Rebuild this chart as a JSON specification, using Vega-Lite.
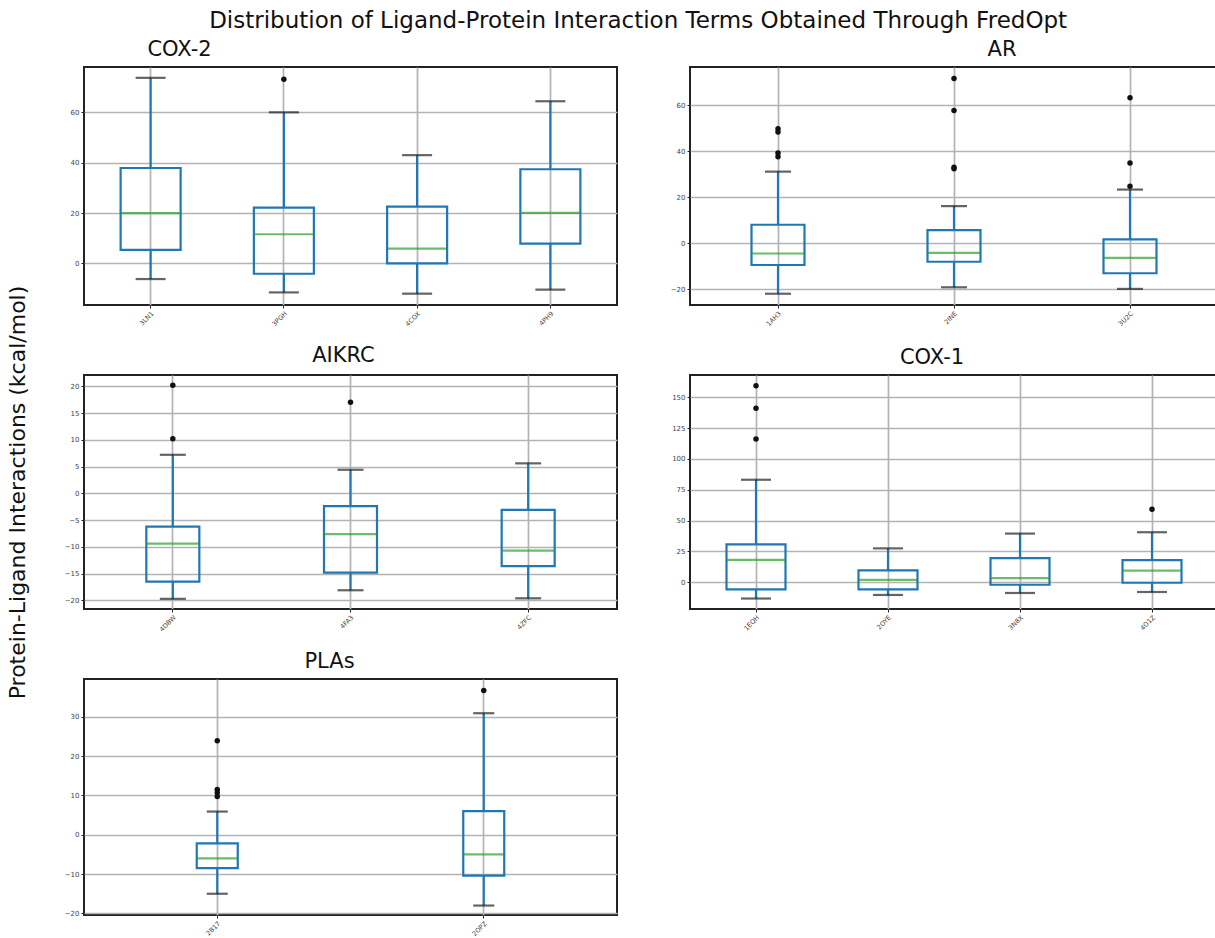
{
  "$schema": "https://vega.github.io/schema/vega-lite/v6.json",
  "background": "white",
  "padding": {"left": 5, "top": 10, "right": 0, "bottom": 0},
  "title": {"text": "Distribution of Ligand-Protein Interaction Terms Obtained Through FredOpt", "fontSize": 23, "anchor": "middle", "frame": "bounds", "dx": 26, "offset": 5},
  "datasets": {
    "summary": [
      {"panel": "COX-2", "pdb": "3LN1", "low": -6.2, "q1": 5.4, "median": 20.0, "q3": 37.9, "high": 73.7},
      {"panel": "COX-2", "pdb": "3PGH", "low": -11.5, "q1": -4.1, "median": 11.6, "q3": 22.2, "high": 60.0},
      {"panel": "COX-2", "pdb": "4COX", "low": -12.0, "q1": 0.0, "median": 5.9, "q3": 22.6, "high": 43.0},
      {"panel": "COX-2", "pdb": "4PH9", "low": -10.4, "q1": 7.9, "median": 20.1, "q3": 37.4, "high": 64.4},
      {"panel": "AR", "pdb": "1AH3", "low": -21.9, "q1": -9.4, "median": -4.4, "q3": 8.1, "high": 31.2},
      {"panel": "AR", "pdb": "2INE", "low": -19.1, "q1": -8.0, "median": -4.1, "q3": 5.8, "high": 16.2},
      {"panel": "AR", "pdb": "3U2C", "low": -19.8, "q1": -13.0, "median": -6.3, "q3": 1.7, "high": 23.4},
      {"panel": "AIKRC", "pdb": "4DBW", "low": -19.7, "q1": -16.5, "median": -9.4, "q3": -6.2, "high": 7.2},
      {"panel": "AIKRC", "pdb": "4FA3", "low": -18.1, "q1": -14.8, "median": -7.6, "q3": -2.4, "high": 4.4},
      {"panel": "AIKRC", "pdb": "4ZFC", "low": -19.6, "q1": -13.6, "median": -10.7, "q3": -3.1, "high": 5.6},
      {"panel": "COX-1", "pdb": "1EQH", "low": -13.3, "q1": -5.9, "median": 18.1, "q3": 30.6, "high": 83.1},
      {"panel": "COX-1", "pdb": "2OYE", "low": -10.4, "q1": -5.9, "median": 1.9, "q3": 9.6, "high": 27.4},
      {"panel": "COX-1", "pdb": "3N8X", "low": -8.8, "q1": -2.1, "median": 3.2, "q3": 19.5, "high": 39.4},
      {"panel": "COX-1", "pdb": "4O1Z", "low": -8.0, "q1": -0.5, "median": 9.3, "q3": 17.9, "high": 40.5},
      {"panel": "PLAs", "pdb": "2B17", "low": -15.0, "q1": -8.5, "median": -6.0, "q3": -2.2, "high": 5.9},
      {"panel": "PLAs", "pdb": "2OPZ", "low": -18.0, "q1": -10.4, "median": -5.0, "q3": 6.0, "high": 30.9}
    ],
    "outliers": [
      {"panel": "COX-2", "pdb": "3PGH", "value": 73.1},
      {"panel": "AR", "pdb": "1AH3", "value": 49.8},
      {"panel": "AR", "pdb": "1AH3", "value": 48.4},
      {"panel": "AR", "pdb": "1AH3", "value": 39.3},
      {"panel": "AR", "pdb": "1AH3", "value": 37.7},
      {"panel": "AR", "pdb": "2INE", "value": 71.7},
      {"panel": "AR", "pdb": "2INE", "value": 57.8},
      {"panel": "AR", "pdb": "2INE", "value": 33.1},
      {"panel": "AR", "pdb": "2INE", "value": 32.4},
      {"panel": "AR", "pdb": "3U2C", "value": 24.8},
      {"panel": "AR", "pdb": "3U2C", "value": 35.0},
      {"panel": "AR", "pdb": "3U2C", "value": 63.3},
      {"panel": "AIKRC", "pdb": "4DBW", "value": 10.2},
      {"panel": "AIKRC", "pdb": "4DBW", "value": 20.2},
      {"panel": "AIKRC", "pdb": "4FA3", "value": 17.0},
      {"panel": "COX-1", "pdb": "1EQH", "value": 159.3},
      {"panel": "COX-1", "pdb": "1EQH", "value": 141.2},
      {"panel": "COX-1", "pdb": "1EQH", "value": 116.2},
      {"panel": "COX-1", "pdb": "4O1Z", "value": 59.2},
      {"panel": "PLAs", "pdb": "2B17", "value": 23.9},
      {"panel": "PLAs", "pdb": "2B17", "value": 11.5},
      {"panel": "PLAs", "pdb": "2B17", "value": 10.7},
      {"panel": "PLAs", "pdb": "2B17", "value": 9.7},
      {"panel": "PLAs", "pdb": "2OPZ", "value": 36.7}
    ]
  },
  "columns": 2,
  "bounds": "flush",
  "spacing": {"row": 70, "column": 73},
  "concat": [
    {
      "width": 533, "height": 238,
      "title": {"text": "COX-2", "dx": -171},
      "data": {"name": "summary"},
      "transform": [{"filter": "datum.panel === 'COX-2'"}],
      "encoding": {"x": {"field": "pdb", "type": "nominal", "scale": {"paddingInner": 0, "paddingOuter": 0}, "axis": {"title": null}}},
      "layer": [
        {"mark": {"type": "rule", "color": "#1f77b4", "strokeWidth": 2.2}, "encoding": {"y": {"field": "low", "type": "quantitative", "scale": {"domain": [-16.5, 78], "nice": false, "zero": false}, "axis": {"title": null, "values": [0, 20, 40, 60]}}, "y2": {"field": "q1"}}},
        {"mark": {"type": "rule", "color": "#1f77b4", "strokeWidth": 2.2}, "encoding": {"y": {"field": "q3", "type": "quantitative", "axis": {"title": null, "values": [0, 20, 40, 60]}}, "y2": {"field": "high"}}},
        {"mark": {"type": "bar", "width": 60, "fillOpacity": 0, "stroke": "#1f77b4", "strokeWidth": 2.2}, "encoding": {"y": {"field": "q1", "type": "quantitative", "axis": {"title": null, "values": [0, 20, 40, 60]}}, "y2": {"field": "q3"}}},
        {"mark": {"type": "tick", "color": "#2ca02c", "size": 60, "thickness": 2.2}, "encoding": {"y": {"field": "median", "type": "quantitative", "axis": {"title": null, "values": [0, 20, 40, 60]}}}},
        {"mark": {"type": "tick", "color": "#222", "size": 30, "thickness": 2.2}, "encoding": {"y": {"field": "low", "type": "quantitative", "axis": {"title": null, "values": [0, 20, 40, 60]}}}},
        {"mark": {"type": "tick", "color": "#222", "size": 30, "thickness": 2.2}, "encoding": {"y": {"field": "high", "type": "quantitative", "axis": {"title": null, "values": [0, 20, 40, 60]}}}},
        {"data": {"name": "outliers"}, "transform": [{"filter": "datum.panel === 'COX-2'"}], "mark": {"type": "circle", "color": "#111", "size": 30, "opacity": 1}, "encoding": {"y": {"field": "value", "type": "quantitative", "axis": {"title": null, "values": [0, 20, 40, 60]}}}}
      ]
    },
    {
      "width": 528, "height": 238,
      "title": {"text": "AR", "dx": 48},
      "data": {"name": "summary"},
      "transform": [{"filter": "datum.panel === 'AR'"}],
      "encoding": {"x": {"field": "pdb", "type": "nominal", "scale": {"paddingInner": 0, "paddingOuter": 0}, "axis": {"title": null}}},
      "layer": [
        {"mark": {"type": "rule", "color": "#1f77b4", "strokeWidth": 2.2}, "encoding": {"y": {"field": "low", "type": "quantitative", "scale": {"domain": [-26.8, 76.7], "nice": false, "zero": false}, "axis": {"title": null, "values": [-20, 0, 20, 40, 60]}}, "y2": {"field": "q1"}}},
        {"mark": {"type": "rule", "color": "#1f77b4", "strokeWidth": 2.2}, "encoding": {"y": {"field": "q3", "type": "quantitative", "axis": {"title": null, "values": [-20, 0, 20, 40, 60]}}, "y2": {"field": "high"}}},
        {"mark": {"type": "bar", "width": 53, "fillOpacity": 0, "stroke": "#1f77b4", "strokeWidth": 2.2}, "encoding": {"y": {"field": "q1", "type": "quantitative", "axis": {"title": null, "values": [-20, 0, 20, 40, 60]}}, "y2": {"field": "q3"}}},
        {"mark": {"type": "tick", "color": "#2ca02c", "size": 53, "thickness": 2.2}, "encoding": {"y": {"field": "median", "type": "quantitative", "axis": {"title": null, "values": [-20, 0, 20, 40, 60]}}}},
        {"mark": {"type": "tick", "color": "#222", "size": 26, "thickness": 2.2}, "encoding": {"y": {"field": "low", "type": "quantitative", "axis": {"title": null, "values": [-20, 0, 20, 40, 60]}}}},
        {"mark": {"type": "tick", "color": "#222", "size": 26, "thickness": 2.2}, "encoding": {"y": {"field": "high", "type": "quantitative", "axis": {"title": null, "values": [-20, 0, 20, 40, 60]}}}},
        {"data": {"name": "outliers"}, "transform": [{"filter": "datum.panel === 'AR'"}], "mark": {"type": "circle", "color": "#111", "size": 30, "opacity": 1}, "encoding": {"y": {"field": "value", "type": "quantitative", "axis": {"title": null, "values": [-20, 0, 20, 40, 60]}}}}
      ]
    },
    {
      "width": 533, "height": 234,
      "title": {"text": "AIKRC", "dx": -7, "dy": 88},
      "data": {"name": "summary"},
      "transform": [{"filter": "datum.panel === 'AIKRC'"}],
      "encoding": {"x": {"field": "pdb", "type": "nominal", "scale": {"paddingInner": 0, "paddingOuter": 0}, "axis": {"title": null}}},
      "layer": [
        {"mark": {"type": "rule", "color": "#1f77b4", "strokeWidth": 2.2}, "encoding": {"y": {"field": "low", "type": "quantitative", "scale": {"domain": [-21.6, 22.1], "nice": false, "zero": false}, "axis": {"title": "Protein-Ligand Interactions (kcal/mol)", "titleFont": "DejaVu Sans", "titleFontSize": 22, "titleFontWeight": "normal", "titleColor": "#111", "titlePadding": 35, "values": [-20, -15, -10, -5, 0, 5, 10, 15, 20]}}, "y2": {"field": "q1"}}},
        {"mark": {"type": "rule", "color": "#1f77b4", "strokeWidth": 2.2}, "encoding": {"y": {"field": "q3", "type": "quantitative", "axis": {"values": [-20, -15, -10, -5, 0, 5, 10, 15, 20]}}, "y2": {"field": "high"}}},
        {"mark": {"type": "bar", "width": 53, "fillOpacity": 0, "stroke": "#1f77b4", "strokeWidth": 2.2}, "encoding": {"y": {"field": "q1", "type": "quantitative", "axis": {"values": [-20, -15, -10, -5, 0, 5, 10, 15, 20]}}, "y2": {"field": "q3"}}},
        {"mark": {"type": "tick", "color": "#2ca02c", "size": 53, "thickness": 2.2}, "encoding": {"y": {"field": "median", "type": "quantitative", "axis": {"values": [-20, -15, -10, -5, 0, 5, 10, 15, 20]}}}},
        {"mark": {"type": "tick", "color": "#222", "size": 26, "thickness": 2.2}, "encoding": {"y": {"field": "low", "type": "quantitative", "axis": {"values": [-20, -15, -10, -5, 0, 5, 10, 15, 20]}}}},
        {"mark": {"type": "tick", "color": "#222", "size": 26, "thickness": 2.2}, "encoding": {"y": {"field": "high", "type": "quantitative", "axis": {"values": [-20, -15, -10, -5, 0, 5, 10, 15, 20]}}}},
        {"data": {"name": "outliers"}, "transform": [{"filter": "datum.panel === 'AIKRC'"}], "mark": {"type": "circle", "color": "#111", "size": 30, "opacity": 1}, "encoding": {"y": {"field": "value", "type": "quantitative", "axis": {"values": [-20, -15, -10, -5, 0, 5, 10, 15, 20]}}}}
      ]
    },
    {
      "width": 528, "height": 234,
      "title": {"text": "COX-1", "dx": -22},
      "data": {"name": "summary"},
      "transform": [{"filter": "datum.panel === 'COX-1'"}],
      "encoding": {"x": {"field": "pdb", "type": "nominal", "scale": {"paddingInner": 0, "paddingOuter": 0}, "axis": {"title": null}}},
      "layer": [
        {"mark": {"type": "rule", "color": "#1f77b4", "strokeWidth": 2.2}, "encoding": {"y": {"field": "low", "type": "quantitative", "scale": {"domain": [-21.8, 168.1], "nice": false, "zero": false}, "axis": {"title": null, "values": [0, 25, 50, 75, 100, 125, 150]}}, "y2": {"field": "q1"}}},
        {"mark": {"type": "rule", "color": "#1f77b4", "strokeWidth": 2.2}, "encoding": {"y": {"field": "q3", "type": "quantitative", "axis": {"title": null, "values": [0, 25, 50, 75, 100, 125, 150]}}, "y2": {"field": "high"}}},
        {"mark": {"type": "bar", "width": 59, "fillOpacity": 0, "stroke": "#1f77b4", "strokeWidth": 2.2}, "encoding": {"y": {"field": "q1", "type": "quantitative", "axis": {"title": null, "values": [0, 25, 50, 75, 100, 125, 150]}}, "y2": {"field": "q3"}}},
        {"mark": {"type": "tick", "color": "#2ca02c", "size": 59, "thickness": 2.2}, "encoding": {"y": {"field": "median", "type": "quantitative", "axis": {"title": null, "values": [0, 25, 50, 75, 100, 125, 150]}}}},
        {"mark": {"type": "tick", "color": "#222", "size": 30, "thickness": 2.2}, "encoding": {"y": {"field": "low", "type": "quantitative", "axis": {"title": null, "values": [0, 25, 50, 75, 100, 125, 150]}}}},
        {"mark": {"type": "tick", "color": "#222", "size": 30, "thickness": 2.2}, "encoding": {"y": {"field": "high", "type": "quantitative", "axis": {"title": null, "values": [0, 25, 50, 75, 100, 125, 150]}}}},
        {"data": {"name": "outliers"}, "transform": [{"filter": "datum.panel === 'COX-1'"}], "mark": {"type": "circle", "color": "#111", "size": 30, "opacity": 1}, "encoding": {"y": {"field": "value", "type": "quantitative", "axis": {"title": null, "values": [0, 25, 50, 75, 100, 125, 150]}}}}
      ]
    },
    {
      "width": 533, "height": 236,
      "title": {"text": "PLAs", "dx": -21},
      "data": {"name": "summary"},
      "transform": [{"filter": "datum.panel === 'PLAs'"}],
      "encoding": {"x": {"field": "pdb", "type": "nominal", "scale": {"paddingInner": 0, "paddingOuter": 0}, "axis": {"title": null}}},
      "layer": [
        {"mark": {"type": "rule", "color": "#1f77b4", "strokeWidth": 2.2}, "encoding": {"y": {"field": "low", "type": "quantitative", "scale": {"domain": [-20.4, 39.6], "nice": false, "zero": false}, "axis": {"title": null, "values": [-20, -10, 0, 10, 20, 30]}}, "y2": {"field": "q1"}}},
        {"mark": {"type": "rule", "color": "#1f77b4", "strokeWidth": 2.2}, "encoding": {"y": {"field": "q3", "type": "quantitative", "axis": {"title": null, "values": [-20, -10, 0, 10, 20, 30]}}, "y2": {"field": "high"}}},
        {"mark": {"type": "bar", "width": 41, "fillOpacity": 0, "stroke": "#1f77b4", "strokeWidth": 2.2}, "encoding": {"y": {"field": "q1", "type": "quantitative", "axis": {"title": null, "values": [-20, -10, 0, 10, 20, 30]}}, "y2": {"field": "q3"}}},
        {"mark": {"type": "tick", "color": "#2ca02c", "size": 41, "thickness": 2.2}, "encoding": {"y": {"field": "median", "type": "quantitative", "axis": {"title": null, "values": [-20, -10, 0, 10, 20, 30]}}}},
        {"mark": {"type": "tick", "color": "#222", "size": 21, "thickness": 2.2}, "encoding": {"y": {"field": "low", "type": "quantitative", "axis": {"title": null, "values": [-20, -10, 0, 10, 20, 30]}}}},
        {"mark": {"type": "tick", "color": "#222", "size": 21, "thickness": 2.2}, "encoding": {"y": {"field": "high", "type": "quantitative", "axis": {"title": null, "values": [-20, -10, 0, 10, 20, 30]}}}},
        {"data": {"name": "outliers"}, "transform": [{"filter": "datum.panel === 'PLAs'"}], "mark": {"type": "circle", "color": "#111", "size": 30, "opacity": 1}, "encoding": {"y": {"field": "value", "type": "quantitative", "axis": {"title": null, "values": [-20, -10, 0, 10, 20, 30]}}}}
      ]
    }
  ],
  "config": {
    "view": {"stroke": "#222", "strokeWidth": 2},
    "title": {"font": "DejaVu Sans", "fontSize": 21, "fontWeight": "normal", "color": "#111", "offset": 7, "frame": "group"},
    "axis": {"labelFont": "DejaVu Sans", "labelFontSize": 7, "labelColor": "#444", "tickColor": "#222", "tickSize": 3, "domain": false, "grid": true, "gridColor": "#b3b3b3", "gridWidth": 1.7},
    "axisX": {"labelAngle": -45, "labelAlign": "right", "labelBaseline": "top", "labelFontSize": 6.5, "grid": true}
  }
}
